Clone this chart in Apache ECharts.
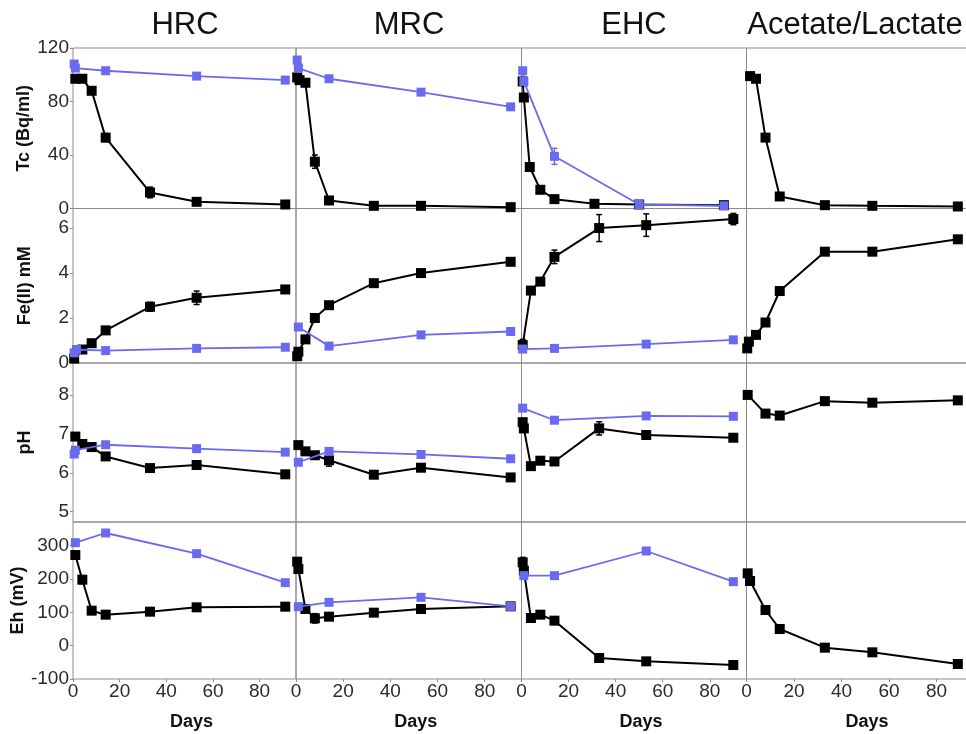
<!DOCTYPE html>
<html>
<head>
<meta charset="utf-8">
<script src="https://cdn.jsdelivr.net/npm/echarts@6/dist/echarts.min.js"></script>
<style>html,body{margin:0;padding:0;background:#fff}#c{width:966px;height:734px}</style>
</head>
<body>
<div id="c"></div>
<script>
// ---------- DATA ----------
const columnTitles = ['HRC', 'MRC', 'EHC', 'Acetate/Lactate'];
const rowNames = ['Tc (Bq/ml)', 'Fe(II) mM', 'pH', 'Eh (mV)'];
const xTicks = [0, 20, 40, 60, 80];
const tcTicks = [0, 40, 80, 120];
const feTicks = [0, 2, 4, 6];
const phTicks = [5, 6, 7, 8];
const ehTicks = [-100, 0, 100, 200, 300];

// [day, value]
const hrcTcBlack = [[1,97],[4,97],[8,88],[14,53],[33,12],[53,5],[91,3]];
const hrcTcBlue  = [[0.5,108],[1,105],[14,103],[53,99],[91,96]];
const hrcFeBlack = [[0.5,0.2],[4,0.6],[8,0.88],[14,1.45],[33,2.5],[53,2.9],[91,3.27]];
const hrcFeBlue  = [[0.5,0.45],[1.5,0.6],[14,0.55],[53,0.65],[91,0.7]];
const hrcPhBlack = [[1,6.93],[4,6.74],[8,6.66],[14,6.42],[33,6.12],[53,6.2],[91,5.96]];
const hrcPhBlue  = [[0.5,6.48],[1,6.58],[14,6.72],[53,6.62],[91,6.53]];
const hrcEhBlack = [[1,272],[4,198],[8,105],[14,93],[33,102],[53,115],[91,117]];
const hrcEhBlue  = [[1,309],[14,338],[53,276],[91,189]];

const mrcTcBlack = [[0.5,98],[1.5,96],[4,94],[8,35],[14,6],[33,2],[53,2],[91,1]];
const mrcTcBlue  = [[0.5,111],[1,105],[14,97],[53,87],[91,76]];
const mrcFeBlack = [[0.5,0.3],[1,0.5],[4,1.05],[8,2.0],[14,2.57],[33,3.55],[53,4.0],[91,4.5]];
const mrcFeBlue  = [[1,1.6],[14,0.75],[53,1.25],[91,1.4]];
const mrcPhBlack = [[1,6.71],[4,6.55],[8,6.45],[14,6.32],[33,5.95],[53,6.13],[91,5.88]];
const mrcPhBlue  = [[1,6.27],[14,6.55],[53,6.47],[91,6.36]];
const mrcEhBlack = [[0.5,252],[1,230],[4,110],[8,82],[14,87],[33,99],[53,110],[91,118]];
const mrcEhBlue  = [[1,117],[14,130],[53,145],[91,118]];

const ehcTcBlack = [[0.5,95],[1,83],[3.5,31],[8,14],[14,7],[31,3.5],[50,3],[86,2.5]];
const ehcTcBlue  = [[0.5,103],[1,95],[14,39],[50,3],[86,2]];
const ehcFeBlack = [[0.5,0.8],[4,3.22],[8,3.62],[14,4.72],[33,6.0],[53,6.13],[90,6.4]];
const ehcFeBlue  = [[0.5,0.62],[14,0.65],[53,0.84],[90,1.03]];
const ehcPhBlack = [[0.5,7.3],[1,7.14],[4,6.17],[8,6.31],[14,6.29],[33,7.14],[53,6.97],[90,6.9]];
const ehcPhBlue  = [[0.5,7.66],[14,7.35],[53,7.46],[90,7.45]];
const ehcEhBlack = [[0.5,250],[1,225],[4,83],[8,93],[14,75],[33,-37],[53,-47],[90,-58]];
const ehcEhBlue  = [[1,210],[14,210],[53,284],[90,192]];

const alTcBlack = [[1.5,99],[4,97],[8,53],[14,9],[33,2.5],[53,2],[89,1.5]];
const alFeBlack = [[0.3,0.65],[1,0.95],[4,1.25],[8,1.8],[14,3.2],[33,4.95],[53,4.95],[89,5.5]];
const alPhBlack = [[0.5,8.0],[8,7.52],[14,7.47],[33,7.84],[53,7.8],[89,7.86]];
const alEhBlack = [[0.5,217],[1.5,194],[8,107],[14,50],[33,-6],[53,-20],[89,-55]];

// error bars: [day, value, error]
const hrcTcErr = [[14,53,3],[33,12,4]];
const hrcFeErr = [[33,2.5,0.2],[53,2.9,0.3]];
const hrcEhErr = [[4,198,12]];
const mrcTcErr = [[8,35,5]];
const mrcFeErr = [[91,4.5,0.12]];
const mrcPhErr = [[14,6.32,0.15],[33,5.95,0.07]];
const mrcEhErr = [[8,82,14]];
const ehcTcBlueErr = [[1,99,6],[14,39,6]];
const ehcFeErr = [[0.5,0.8,0.25],[14,4.72,0.3],[33,6.0,0.6],[53,6.13,0.5],[90,6.4,0.25]];
const ehcPhErr = [[33,7.14,0.17]];
const ehcEhErr = [[0.5,250,15]];

// ---------- LAYOUT ----------
const FONT = 'Liberation Sans, Arial, sans-serif';
const BLACK = '#000000';
const BLUE = '#6a6af0';
const GRAYLINE = '#8c8c8c';
const colLeft = [73, 296, 521.5, 746.5];
const colWidth = [223, 225.5, 225, 227];
const rowTop = [48, 208.5, 363, 522];
const rowHeight = [160.5, 154.5, 159, 157];
const xMax = 95.6;
const yRange = [[0,120],[0,6.87],[4.735,8.82],[-100,371]];
const yTicks = [tcTicks, feTicks, phTicks, ehTicks];

const panels = [
  [ {black:hrcTcBlack, blue:hrcTcBlue, err:hrcTcErr}, {black:mrcTcBlack, blue:mrcTcBlue, err:mrcTcErr}, {black:ehcTcBlack, blue:ehcTcBlue, blueErr:ehcTcBlueErr}, {black:alTcBlack} ],
  [ {black:hrcFeBlack, blue:hrcFeBlue, err:hrcFeErr}, {black:mrcFeBlack, blue:mrcFeBlue, err:mrcFeErr}, {black:ehcFeBlack, blue:ehcFeBlue, err:ehcFeErr}, {black:alFeBlack} ],
  [ {black:hrcPhBlack, blue:hrcPhBlue}, {black:mrcPhBlack, blue:mrcPhBlue, err:mrcPhErr}, {black:ehcPhBlack, blue:ehcPhBlue, err:ehcPhErr}, {black:alPhBlack} ],
  [ {black:hrcEhBlack, blue:hrcEhBlue, err:hrcEhErr}, {black:mrcEhBlack, blue:mrcEhBlue, err:mrcEhErr}, {black:ehcEhBlack, blue:ehcEhBlue, err:ehcEhErr}, {black:alEhBlack} ]
];

function errRenderer(color){
  return function(params, api){
    const x = api.value(0), lo = api.value(1), hi = api.value(2);
    const a = api.coord([x, lo]), b = api.coord([x, hi]);
    const st = {stroke: color, lineWidth: 1.5};
    return {type:'group', children:[
      {type:'line', shape:{x1:a[0],y1:a[1],x2:b[0],y2:b[1]}, style:st},
      {type:'line', shape:{x1:a[0]-3,y1:a[1],x2:a[0]+3,y2:a[1]}, style:st},
      {type:'line', shape:{x1:b[0]-3,y1:b[1],x2:b[0]+3,y2:b[1]}, style:st}
    ]};
  };
}

const grid = [], xAxis = [], yAxis = [], series = [];
let gi = 0;
for (let r = 0; r < 4; r++) {
  for (let c = 0; c < 4; c++) {
    grid.push({left: colLeft[c], width: colWidth[c], top: rowTop[r], height: rowHeight[r],
      show: true, borderColor: GRAYLINE, borderWidth: 1, backgroundColor: 'transparent',
      containLabel: false, outerBoundsMode: 'none'});
    const bottomRow = r === 3, leftCol = c === 0;
    xAxis.push({type:'value', gridIndex: gi, min: 0, max: xMax,
      axisLine:{show:false, onZero:false}, splitLine:{show:false},
      axisTick:{show: bottomRow, customValues: xTicks, length: 3, lineStyle:{color: GRAYLINE}},
      axisLabel:{show: bottomRow, customValues: xTicks, fontSize: 19, fontFamily: FONT, color:'#2a2a2a', margin: 3},
      name: bottomRow ? 'Days' : '', nameLocation:'middle', nameGap: 34,
      nameTextStyle:{fontSize: 18, fontWeight:'bold', fontFamily: FONT, color:'#111', padding:[0,0,0,14]}
    });
    yAxis.push({type:'value', gridIndex: gi, min: yRange[r][0], max: yRange[r][1],
      axisLine:{show:false, onZero:false}, splitLine:{show:false},
      axisTick:{show: leftCol, customValues: yTicks[r], length: 3, lineStyle:{color: GRAYLINE}},
      axisLabel:{show: leftCol, customValues: yTicks[r], fontSize: 19, fontFamily: FONT, color:'#2a2a2a', margin: 4},
      name: leftCol ? rowNames[r] : '', nameLocation:'middle', nameGap: 39, nameRotate: 90,
      nameTextStyle:{fontSize: 18, fontWeight:'bold', fontFamily: FONT, color:'#111'}
    });
    const p = panels[r][c];
    series.push({type:'line', xAxisIndex: gi, yAxisIndex: gi, data: p.black,
      symbol:'rect', symbolSize: 10, itemStyle:{color: BLACK}, lineStyle:{color: BLACK, width: 2}, z: 3});
    if (p.err) series.push({type:'custom', xAxisIndex: gi, yAxisIndex: gi, z: 3,
      renderItem: errRenderer(BLACK), data: p.err.map(d => [d[0], d[1]-d[2], d[1]+d[2]])});
    if (p.blue) series.push({type:'line', xAxisIndex: gi, yAxisIndex: gi, data: p.blue,
      symbol:'rect', symbolSize: 9, itemStyle:{color: BLUE}, lineStyle:{color: BLUE, width: 1.8}, z: 4});
    if (p.blueErr) series.push({type:'custom', xAxisIndex: gi, yAxisIndex: gi, z: 4,
      renderItem: errRenderer(BLUE), data: p.blueErr.map(d => [d[0], d[1]-d[2], d[1]+d[2]])});
    gi++;
  }
}

const titleCenters = [185, 409, 634, 855];
const title = columnTitles.map((t, i) => ({text: t, left: titleCenters[i], top: 10, textAlign: 'center', padding: 0,
  textStyle:{fontSize: 31, fontWeight: 'normal', fontFamily: FONT, color: '#111'}}));

const chart = echarts.init(document.getElementById('c'), null, {renderer: 'canvas'});
chart.setOption({animation: false, backgroundColor: '#fff', title, grid, xAxis, yAxis, series});
</script>
</body>
</html>
